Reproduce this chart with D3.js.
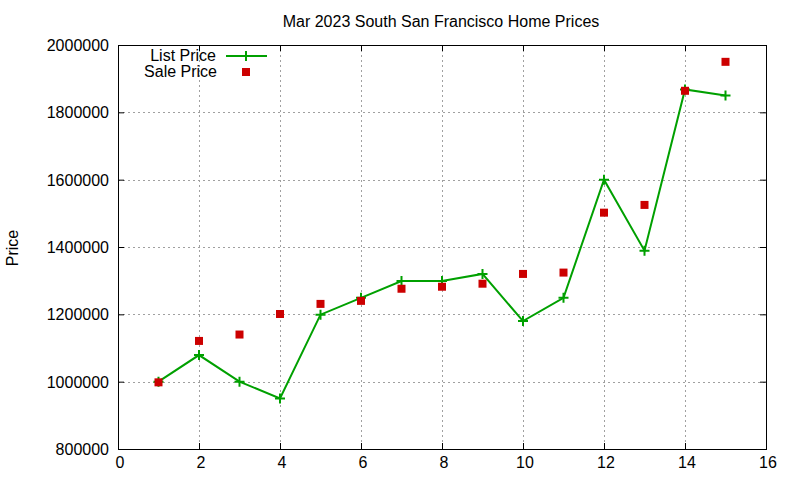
<!DOCTYPE html>
<html>
<head>
<meta charset="utf-8">
<script src="https://cdn.jsdelivr.net/npm/d3@7"></script>
<style>
  body { margin: 0; background: #fff; }
  svg text { font-family: "Liberation Sans", Arial, sans-serif; fill: #000; }
</style>
</head>
<body>
<svg id="chart" width="800" height="480"></svg>
<script>
// values
const months = [1, 2, 3, 4, 5, 6, 7, 8, 9, 10, 11, 12, 13, 14, 15];
const listPrice = [1000000, 1079000, 1000000, 950000, 1199000, 1249000, 1299000, 1299000, 1320000, 1180000, 1249000, 1600000, 1389000, 1868000, 1850000];
const salePrice = [998000, 1121000, 1140000, 1201000, 1231000, 1240000, 1276000, 1282000, 1291000, 1320000, 1324000, 1502000, 1525000, 1864000, 1950000];
const xTicks = [0, 2, 4, 6, 8, 10, 12, 14, 16];
const yTicks = [800000, 1000000, 1200000, 1400000, 1600000, 1800000, 2000000];
const titleText = "Mar 2023 South San Francisco Home Prices";

const green = "#00a000";
const red = "#cc0000";
const fontSize = 16;

const svg = d3.select("#chart");
const margin = { left: 118, right: 34, top: 45, bottom: 31 };
const width = 800 - margin.left - margin.right;
const height = 480 - margin.top - margin.bottom;

const x = d3.scaleLinear().domain([0, 16]).range([margin.left, margin.left + width]);
const y = d3.scaleLinear().domain([800000, 2000000]).range([margin.top + height, margin.top]);

// grid
const grid = svg.append("g").attr("stroke", "#a0a0a0").attr("stroke-dasharray", "2,3").attr("stroke-width", 1);
xTicks.slice(1, -1).forEach(t => {
    grid.append("line").attr("x1", Math.round(x(t)) + 0.5).attr("x2", Math.round(x(t)) + 0.5).attr("y1", y.range()[1]).attr("y2", y.range()[0]);
});
yTicks.slice(1, -1).forEach(t => {
    grid.append("line").attr("y1", Math.round(y(t)) + 0.5).attr("y2", Math.round(y(t)) + 0.5).attr("x1", x.range()[0]).attr("x2", x.range()[1]);
});

// axes, ticks pointing inward and mirrored
const tickLen = 6;
const mkAxis = (axisFn, scale, ticks, tx, ty, labels) => {
    const a = svg.append("g").attr("transform", `translate(${tx},${ty})`)
        .call(axisFn(scale).tickValues(ticks).tickSize(tickLen)
            .tickFormat(labels ? d3.format("d") : ""));
    a.select(".domain").remove();
    a.selectAll("line").attr("stroke", "#000");
    a.selectAll("text").attr("font-size", fontSize).attr("fill", "#000").attr("font-family", null);
    return a;
};
// bottom: ticks go up (inward)
const bottomAxis = mkAxis(d3.axisTop, x, xTicks, 0, y.range()[0], true);
bottomAxis.selectAll("text").attr("dy", null).attr("y", 19).attr("x", 1.5);
mkAxis(d3.axisBottom, x, xTicks, 0, y.range()[1], false);
const leftAxis = mkAxis(d3.axisRight, y, yTicks, x.range()[0], 0, true);
leftAxis.selectAll("text").attr("text-anchor", "end").attr("x", -9).attr("dy", null).attr("y", 5.5);
mkAxis(d3.axisLeft, y, yTicks, x.range()[1], 0, false);

// frame
svg.append("rect")
    .attr("x", x.range()[0] + 0.5).attr("y", y.range()[1] + 0.5)
    .attr("width", width).attr("height", height)
    .attr("fill", "none").attr("stroke", "#000").attr("stroke-width", 1);

// title and axis label
svg.append("text").attr("x", 441).attr("y", 27).attr("text-anchor", "middle")
    .attr("font-size", fontSize).text(titleText);
svg.append("text").attr("transform", "translate(18,248) rotate(-90)").attr("text-anchor", "middle")
    .attr("font-size", fontSize).text("Price");

// list price line
const line = d3.line().x((d, i) => x(months[i])).y(d => y(d));
svg.append("path").datum(listPrice)
    .attr("d", line).attr("fill", "none").attr("stroke", green).attr("stroke-width", 2);

const plus = (g, cx, cy) => {
    g.append("path").attr("d", `M${cx - 5},${cy}H${cx + 5}M${cx},${cy - 5}V${cy + 5}`)
        .attr("stroke", green).attr("stroke-width", 2).attr("fill", "none");
};
const plusG = svg.append("g");
listPrice.forEach((v, i) => plus(plusG, x(months[i]), y(v)));

// sale price squares
svg.append("g").selectAll("rect").data(salePrice).join("rect")
    .attr("x", (d, i) => x(months[i]) - 4).attr("y", d => y(d) - 4)
    .attr("width", 8).attr("height", 8).attr("fill", red);

// legend
const legend = svg.append("g");
legend.append("text").attr("x", 216).attr("y", 61).attr("text-anchor", "end")
    .attr("font-size", fontSize).text("List Price");
legend.append("line").attr("x1", 226).attr("x2", 267).attr("y1", 56).attr("y2", 56)
    .attr("stroke", green).attr("stroke-width", 2);
plus(legend, 246, 56);
legend.append("text").attr("x", 217).attr("y", 77).attr("text-anchor", "end")
    .attr("font-size", fontSize).text("Sale Price");
legend.append("rect").attr("x", 242).attr("y", 68).attr("width", 8).attr("height", 8).attr("fill", red);
</script>
</body>
</html>
